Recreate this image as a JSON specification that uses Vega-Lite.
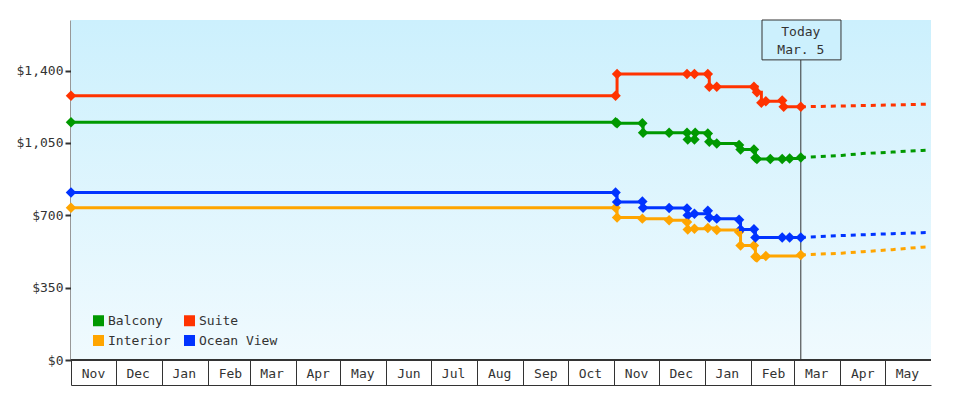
{
  "$schema": "https://vega.github.io/schema/vega-lite/v6.json",
  "width": 860,
  "height": 340,
  "autosize": {"type": "none"},
  "padding": {"left": 71, "top": 20, "right": 49, "bottom": 40},
  "background": "#ffffff",
  "config": {
    "view": {"stroke": null},
    "font": "DejaVu Sans Mono",
    "axis": {"labelFont": "DejaVu Sans Mono", "labelFontSize": 13, "labelColor": "#333333", "domainColor": "#333333", "tickColor": "#333333", "grid": false}
  },
  "datasets": {
    "bg": [{"start": "2022-11-01T00:00:00", "end": "2024-06-01T00:00:00", "low": 0, "high": 1645}],
    "today": [{"date": "2024-03-05T12:00:00", "boxStart": "2024-02-08T10:00:00", "boxEnd": "2024-04-01T12:00:00", "boxLow": 1452, "boxHigh": 1645, "labelY": 1587, "label": "Today|Mar. 5"}],
    "hist": [
      {"series": "Balcony", "date": "2022-11-01T00:00:00", "price": 1150},
      {"series": "Balcony", "date": "2023-11-02T00:00:00", "price": 1150},
      {"series": "Balcony", "date": "2023-11-03T00:00:00", "price": 1145},
      {"series": "Balcony", "date": "2023-11-20T00:00:00", "price": 1145},
      {"series": "Balcony", "date": "2023-11-20T12:00:00", "price": 1099},
      {"series": "Balcony", "date": "2023-12-08T00:00:00", "price": 1099},
      {"series": "Balcony", "date": "2023-12-20T00:00:00", "price": 1099},
      {"series": "Balcony", "date": "2023-12-20T12:00:00", "price": 1067},
      {"series": "Balcony", "date": "2023-12-25T00:00:00", "price": 1067},
      {"series": "Balcony", "date": "2023-12-25T12:00:00", "price": 1099},
      {"series": "Balcony", "date": "2024-01-03T00:00:00", "price": 1096},
      {"series": "Balcony", "date": "2024-01-04T00:00:00", "price": 1056},
      {"series": "Balcony", "date": "2024-01-09T00:00:00", "price": 1048},
      {"series": "Balcony", "date": "2024-01-24T00:00:00", "price": 1040},
      {"series": "Balcony", "date": "2024-01-25T00:00:00", "price": 1019},
      {"series": "Balcony", "date": "2024-02-03T00:00:00", "price": 1019},
      {"series": "Balcony", "date": "2024-02-04T00:00:00", "price": 978},
      {"series": "Balcony", "date": "2024-02-05T00:00:00", "price": 972},
      {"series": "Balcony", "date": "2024-02-14T00:00:00", "price": 972},
      {"series": "Balcony", "date": "2024-02-22T00:00:00", "price": 972},
      {"series": "Balcony", "date": "2024-02-27T00:00:00", "price": 975},
      {"series": "Balcony", "date": "2024-03-05T12:00:00", "price": 980},
      {"series": "Suite", "date": "2022-11-01T00:00:00", "price": 1279},
      {"series": "Suite", "date": "2023-11-02T00:00:00", "price": 1279},
      {"series": "Suite", "date": "2023-11-03T00:00:00", "price": 1384},
      {"series": "Suite", "date": "2023-12-20T00:00:00", "price": 1384},
      {"series": "Suite", "date": "2023-12-25T00:00:00", "price": 1384},
      {"series": "Suite", "date": "2024-01-03T00:00:00", "price": 1384},
      {"series": "Suite", "date": "2024-01-04T00:00:00", "price": 1322},
      {"series": "Suite", "date": "2024-01-09T00:00:00", "price": 1322},
      {"series": "Suite", "date": "2024-02-03T00:00:00", "price": 1322},
      {"series": "Suite", "date": "2024-02-05T00:00:00", "price": 1295},
      {"series": "Suite", "date": "2024-02-08T00:00:00", "price": 1245},
      {"series": "Suite", "date": "2024-02-11T00:00:00", "price": 1252},
      {"series": "Suite", "date": "2024-02-22T00:00:00", "price": 1256},
      {"series": "Suite", "date": "2024-02-23T00:00:00", "price": 1225},
      {"series": "Suite", "date": "2024-03-05T12:00:00", "price": 1225},
      {"series": "Interior", "date": "2022-11-01T00:00:00", "price": 737},
      {"series": "Interior", "date": "2023-11-02T00:00:00", "price": 737},
      {"series": "Interior", "date": "2023-11-03T00:00:00", "price": 689},
      {"series": "Interior", "date": "2023-11-20T00:00:00", "price": 684},
      {"series": "Interior", "date": "2023-12-08T00:00:00", "price": 676},
      {"series": "Interior", "date": "2023-12-20T00:00:00", "price": 668},
      {"series": "Interior", "date": "2023-12-20T12:00:00", "price": 631},
      {"series": "Interior", "date": "2023-12-25T00:00:00", "price": 635},
      {"series": "Interior", "date": "2024-01-03T00:00:00", "price": 639},
      {"series": "Interior", "date": "2024-01-09T00:00:00", "price": 629},
      {"series": "Interior", "date": "2024-01-24T00:00:00", "price": 619},
      {"series": "Interior", "date": "2024-01-25T00:00:00", "price": 554},
      {"series": "Interior", "date": "2024-02-03T00:00:00", "price": 554},
      {"series": "Interior", "date": "2024-02-04T00:00:00", "price": 500},
      {"series": "Interior", "date": "2024-02-05T00:00:00", "price": 496},
      {"series": "Interior", "date": "2024-02-11T00:00:00", "price": 503},
      {"series": "Interior", "date": "2024-03-05T12:00:00", "price": 508},
      {"series": "Ocean View", "date": "2022-11-01T00:00:00", "price": 810},
      {"series": "Ocean View", "date": "2023-11-02T00:00:00", "price": 810},
      {"series": "Ocean View", "date": "2023-11-03T00:00:00", "price": 765},
      {"series": "Ocean View", "date": "2023-11-20T00:00:00", "price": 767},
      {"series": "Ocean View", "date": "2023-11-20T12:00:00", "price": 737},
      {"series": "Ocean View", "date": "2023-12-08T00:00:00", "price": 735},
      {"series": "Ocean View", "date": "2023-12-20T00:00:00", "price": 733},
      {"series": "Ocean View", "date": "2023-12-20T12:00:00", "price": 700},
      {"series": "Ocean View", "date": "2023-12-25T00:00:00", "price": 708},
      {"series": "Ocean View", "date": "2024-01-03T00:00:00", "price": 722},
      {"series": "Ocean View", "date": "2024-01-04T00:00:00", "price": 689},
      {"series": "Ocean View", "date": "2024-01-09T00:00:00", "price": 684},
      {"series": "Ocean View", "date": "2024-01-24T00:00:00", "price": 679},
      {"series": "Ocean View", "date": "2024-01-25T00:00:00", "price": 631},
      {"series": "Ocean View", "date": "2024-02-03T00:00:00", "price": 633},
      {"series": "Ocean View", "date": "2024-02-04T00:00:00", "price": 593},
      {"series": "Ocean View", "date": "2024-02-22T00:00:00", "price": 593},
      {"series": "Ocean View", "date": "2024-02-27T00:00:00", "price": 593},
      {"series": "Ocean View", "date": "2024-03-05T12:00:00", "price": 593}
    ],
    "fc": [
      {"series": "Balcony", "date": "2024-03-05T12:00:00", "price": 980},
      {"series": "Balcony", "date": "2024-04-02T00:00:00", "price": 990},
      {"series": "Balcony", "date": "2024-04-16T00:00:00", "price": 999},
      {"series": "Balcony", "date": "2024-05-06T00:00:00", "price": 1006},
      {"series": "Balcony", "date": "2024-05-26T00:00:00", "price": 1014},
      {"series": "Balcony", "date": "2024-05-31T00:00:00", "price": 1016},
      {"series": "Suite", "date": "2024-03-05T12:00:00", "price": 1225},
      {"series": "Suite", "date": "2024-04-02T00:00:00", "price": 1229},
      {"series": "Suite", "date": "2024-04-16T00:00:00", "price": 1231},
      {"series": "Suite", "date": "2024-05-06T00:00:00", "price": 1234},
      {"series": "Suite", "date": "2024-05-26T00:00:00", "price": 1237},
      {"series": "Suite", "date": "2024-05-31T00:00:00", "price": 1238},
      {"series": "Interior", "date": "2024-03-05T12:00:00", "price": 508},
      {"series": "Interior", "date": "2024-04-02T00:00:00", "price": 517},
      {"series": "Interior", "date": "2024-04-16T00:00:00", "price": 524},
      {"series": "Interior", "date": "2024-05-06T00:00:00", "price": 534},
      {"series": "Interior", "date": "2024-05-26T00:00:00", "price": 546},
      {"series": "Interior", "date": "2024-05-31T00:00:00", "price": 548},
      {"series": "Ocean View", "date": "2024-03-05T12:00:00", "price": 593},
      {"series": "Ocean View", "date": "2024-04-02T00:00:00", "price": 602},
      {"series": "Ocean View", "date": "2024-04-16T00:00:00", "price": 606},
      {"series": "Ocean View", "date": "2024-05-06T00:00:00", "price": 611},
      {"series": "Ocean View", "date": "2024-05-26T00:00:00", "price": 616},
      {"series": "Ocean View", "date": "2024-05-31T00:00:00", "price": 617}
    ]
  },
  "layer": [
    {
      "data": {"name": "bg"},
      "mark": {"type": "rect", "fill": {"gradient": "linear", "x1": 0, "y1": 0, "x2": 0, "y2": 1, "stops": [{"offset": 0, "color": "#ccf0fd"}, {"offset": 1, "color": "#f0fafe"}]}},
      "encoding": {
        "x": {"field": "start", "type": "temporal",
              "scale": {"domain": [{"year": 2022, "month": 11, "date": 1}, {"year": 2024, "month": 6, "date": 1}]},
              "axis": {"orient": "bottom", "offset": 25, "values": [
                {"year": 2022, "month": 11, "date": 1}, {"year": 2022, "month": 12, "date": 1},
                {"year": 2023, "month": 1, "date": 1}, {"year": 2023, "month": 2, "date": 1}, {"year": 2023, "month": 3, "date": 1},
                {"year": 2023, "month": 4, "date": 1}, {"year": 2023, "month": 5, "date": 1}, {"year": 2023, "month": 6, "date": 1},
                {"year": 2023, "month": 7, "date": 1}, {"year": 2023, "month": 8, "date": 1}, {"year": 2023, "month": 9, "date": 1},
                {"year": 2023, "month": 10, "date": 1}, {"year": 2023, "month": 11, "date": 1}, {"year": 2023, "month": 12, "date": 1},
                {"year": 2024, "month": 1, "date": 1}, {"year": 2024, "month": 2, "date": 1}, {"year": 2024, "month": 3, "date": 1},
                {"year": 2024, "month": 4, "date": 1}, {"year": 2024, "month": 5, "date": 1}],
                "format": "%b", "labelAlign": "center", "labelBaseline": "middle", "labelOffset": 22, "labelPadding": 13,
                "tickSize": -25, "tickWidth": 1, "domainWidth": 1, "grid": false, "title": null,
                "labelFlush": false, "labelOverlap": false, "labelBound": false}},
        "x2": {"field": "end"},
        "y": {"field": "low", "type": "quantitative",
              "scale": {"domain": [0, 1645], "nice": false, "zero": false},
              "axis": {"values": [0, 350, 700, 1050, 1400], "format": "$,.0f", "grid": false, "title": null, "domainWidth": 2, "tickWidth": 2, "tickSize": 6, "labelPadding": 2}},
        "y2": {"field": "high"}
      }
    },
    {
      "data": {"name": "bg"},
      "mark": {"type": "rule", "color": "#333333", "strokeWidth": 2},
      "encoding": {
        "x": {"field": "start", "type": "temporal"},
        "x2": {"field": "end"},
        "y": {"field": "low", "type": "quantitative"}
      }
    },
    {
      "data": {"name": "today"},
      "mark": {"type": "rule", "color": "#333333", "strokeWidth": 1},
      "encoding": {
        "x": {"field": "date", "type": "temporal"},
        "y": {"field": "boxLow", "type": "quantitative"},
        "y2": {"datum": 0}
      }
    },
    {
      "data": {"name": "today"},
      "mark": {"type": "rect", "fill": "#ccf0fd", "stroke": "#333333", "strokeWidth": 1},
      "encoding": {
        "x": {"field": "boxStart", "type": "temporal"},
        "x2": {"field": "boxEnd"},
        "y": {"field": "boxLow", "type": "quantitative"},
        "y2": {"field": "boxHigh"}
      }
    },
    {
      "data": {"name": "today"},
      "mark": {"type": "text", "font": "DejaVu Sans Mono", "fontSize": 13, "color": "#333333", "lineBreak": "|", "lineHeight": 18, "align": "center", "baseline": "middle"},
      "encoding": {
        "x": {"field": "date", "type": "temporal"},
        "y": {"field": "labelY", "type": "quantitative"},
        "text": {"field": "label", "type": "nominal"}
      }
    },
    {
      "data": {"name": "hist"},
      "mark": {"type": "point", "shape": "diamond", "filled": true, "size": 110, "opacity": 1},
      "encoding": {
        "x": {"field": "date", "type": "temporal"},
        "y": {"field": "price", "type": "quantitative"},
        "color": {"field": "series", "type": "nominal",
                  "scale": {"domain": ["Balcony", "Interior", "Suite", "Ocean View"], "range": ["#009900", "#ffa500", "#ff3300", "#0033ff"]},
                  "legend": {"orient": "none", "legendX": 21, "legendY": 294, "columns": 2, "symbolType": "square", "symbolSize": 121,
                             "symbolStrokeWidth": 0, "symbolOpacity": 1, "labelFont": "DejaVu Sans Mono", "labelFontSize": 13,
                             "labelColor": "#333333", "title": null, "rowPadding": 6, "columnPadding": 12, "labelOffset": 3, "padding": 0}}
      }
    },
    {
      "data": {"name": "hist"},
      "mark": {"type": "line", "interpolate": "step-after", "strokeWidth": 3},
      "encoding": {
        "x": {"field": "date", "type": "temporal"},
        "y": {"field": "price", "type": "quantitative"},
        "color": {"field": "series", "type": "nominal"}
      }
    },
    {
      "data": {"name": "fc"},
      "mark": {"type": "line", "strokeWidth": 3, "strokeDash": [5, 5]},
      "encoding": {
        "x": {"field": "date", "type": "temporal"},
        "y": {"field": "price", "type": "quantitative"},
        "color": {"field": "series", "type": "nominal"}
      }
    }
  ]
}
